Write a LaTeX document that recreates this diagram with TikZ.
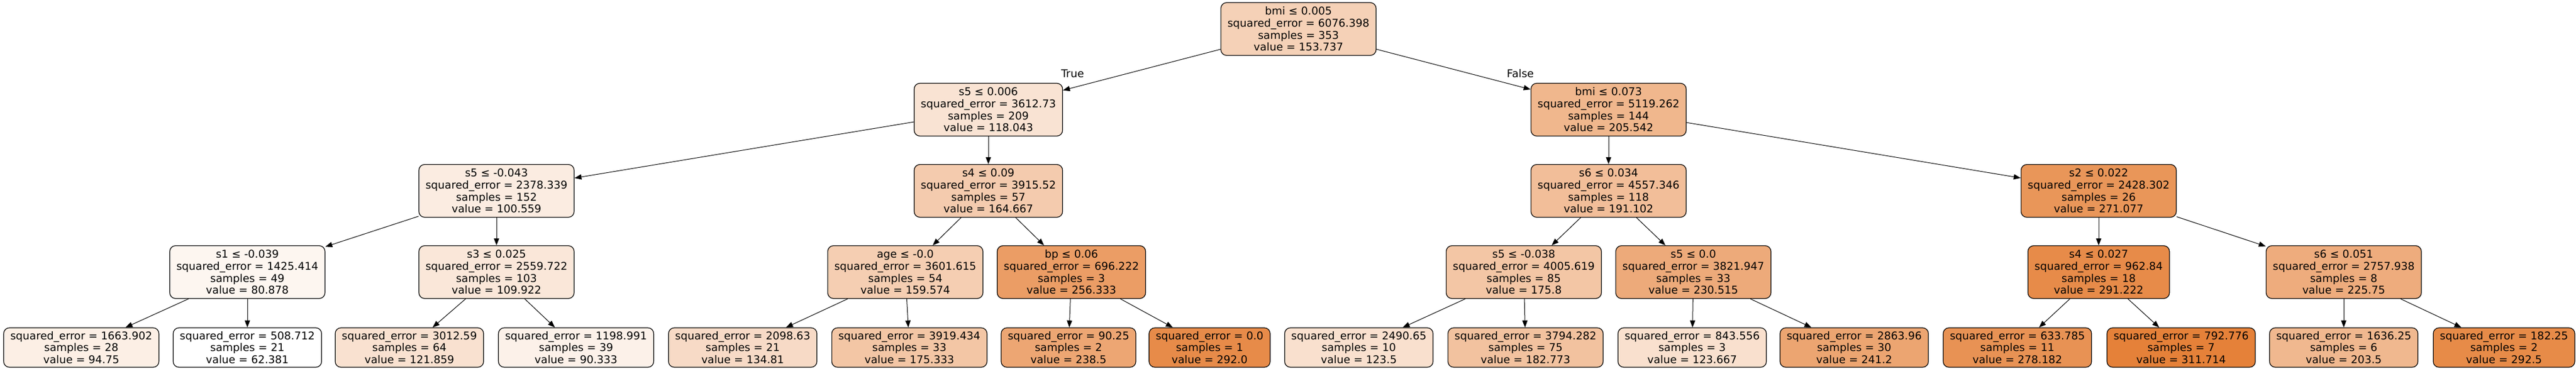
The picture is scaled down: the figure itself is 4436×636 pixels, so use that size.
\documentclass[tikz,border=0pt]{standalone}
\usepackage{fontspec}
\setmainfont{DejaVu Sans}
\usepackage{tikz}
\usetikzlibrary{arrows.meta}
\definecolor{tree}{RGB}{229,129,57}

\begin{document}
\begin{tikzpicture}[x=0.5pt,y=-0.5pt,
  box/.style={draw, line width=0.6pt, rounded corners=5pt, align=center,
    inner xsep=5.75pt, inner ysep=1pt, font=\fontsize{9.25}{10.3}\selectfont},
  split/.style={box, minimum height=45.5pt},
  leaf/.style={box, minimum height=34pt},
  edge/.style={line width=0.5pt, -{Triangle[length=6pt,width=4.5pt]}},
  lbl/.style={font=\fontsize{9.25}{10.3}\selectfont}]
\useasboundingbox (0,0) rectangle (4436,636);

\foreach \name/\x/\y/\cond/\err/\n/\val/\pct in {
    n0/2236/50/bmi ≤ 0.005/6076.398/353/153.737/36.6,
    n1/1702/189/s5 ≤ 0.006/3612.73/209/118.043/22.3,
    n16/2770/189/bmi ≤ 0.073/5119.262/144/205.542/57.4,
    n2/855/329/s5 ≤ -0.043/2378.339/152/100.559/15.3,
    n9/1702/329/s4 ≤ 0.09/3915.52/57/164.667/41.0,
    n17/2770/329/s6 ≤ 0.034/4557.346/118/191.102/51.6,
    n24/3614/329/s2 ≤ 0.022/2428.302/26/271.077/83.7,
    n3/426/469/s1 ≤ -0.039/1425.414/49/80.878/7.4,
    n6/855/469/s3 ≤ 0.025/2559.722/103/109.922/19.1,
    n10/1559/469/age ≤ -0.0/3601.615/54/159.574/39.0,
    n13/1845/469/bp ≤ 0.06/696.222/3/256.333/77.8,
    n18/2624/469/s5 ≤ -0.038/4005.619/85/175.8/45.5,
    n21/2916/469/s5 ≤ 0.0/3821.947/33/230.515/67.4,
    n25/3614/469/s4 ≤ 0.027/962.84/18/291.222/91.8,
    n28/4036/469/s6 ≤ 0.051/2757.938/8/225.75/65.5}{
  \node[split, fill=tree!\pct!white] (\name) at (\x,\y)
    {\cond\\squared\_error = \err\\samples = \n\\value = \val};
}

\foreach \name/\x/\err/\n/\val/\pct in {
    n4/140/1663.902/28/94.75/13.0,
    n5/426/508.712/21/62.381/0,
    n7/705/3012.59/64/121.859/23.9,
    n8/992/1198.991/39/90.333/11.2,
    n11/1279/2098.63/21/134.81/29.0,
    n12/1566/3919.434/33/175.333/45.3,
    n14/1840/90.25/2/238.5/70.6,
    n15/2083/0.0/1/292.0/92.1,
    n19/2340/2490.65/10/123.5/24.5,
    n20/2627/3794.282/75/182.773/48.3,
    n22/2914/843.556/3/123.667/24.6,
    n23/3193/2863.96/30/241.2/71.7,
    n26/3474/633.785/11/278.182/86.6,
    n27/3756/792.776/7/311.714/100,
    n29/4036/1636.25/6/203.5/56.6,
    n30/4312/182.25/2/292.5/92.3}{
  \node[leaf, fill=tree!\pct!white] (\name) at (\x,599)
    {squared\_error = \err\\samples = \n\\value = \val};
}

\foreach \a/\b in {n0/n1, n0/n16, n1/n2, n1/n9, n2/n3, n2/n6, n3/n4, n3/n5,
    n6/n7, n6/n8, n9/n10, n9/n13, n10/n11, n10/n12, n13/n14, n13/n15,
    n16/n17, n16/n24, n17/n18, n17/n21, n18/n19, n18/n20, n21/n22, n21/n23,
    n24/n25, n24/n28, n25/n26, n25/n27, n28/n29, n28/n30}{
  \draw[edge] (\a) -- (\b);
}

\node[lbl] (true) at (1847,127) {True};
\node[lbl] (false) at (2618,127) {False};
\end{tikzpicture}
\end{document}
